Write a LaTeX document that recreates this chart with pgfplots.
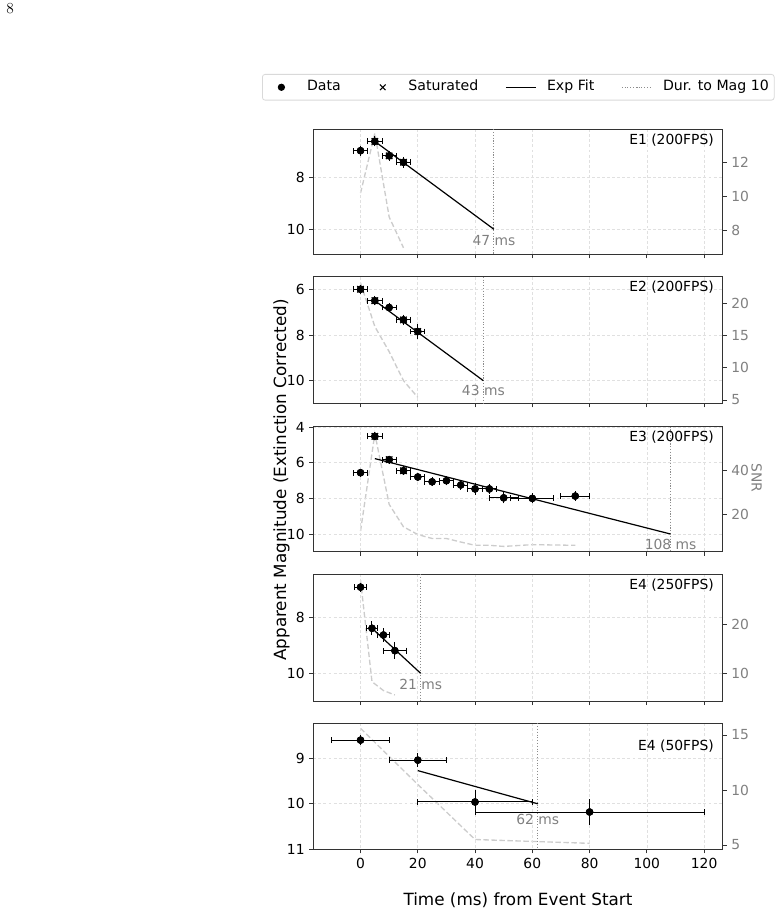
\documentclass[border=0pt]{standalone}
\usepackage{pgfplots}
\usepackage{pgfplotstable}
\pgfplotsset{compat=1.18}
\usepackage{fontspec}
\newfontfamily\dv{DejaVu Sans}
\newcommand{\tickf}{\dv\fontsize{10.4}{12.5}\selectfont}
\newcommand{\legf}{\dv\fontsize{10.6}{12.5}\selectfont}
\newcommand{\labf}{\dv\fontsize{12.6}{15}\selectfont}

\pgfplotstableread{
x y ex ey
0 6.95 2.5 0.08
5 6.59 2.5 0.08
10 7.15 2.5 0.08
15 7.40 2.5 0.10
}\tA
\pgfplotstableread{
x y ex ey
0 6.00 2.5 0.08
5 6.50 2.5 0.08
10 6.80 2.5 0.08
15 7.34 2.5 0.10
20 7.85 2.5 0.18
}\tB
\pgfplotstableread{
x y ex ey
0 6.56 2.5 0.06
5 4.52 2.5 0.06
10 5.83 2.5 0.06
15 6.45 2.5 0.08
20 6.80 2.5 0.08
25 7.07 2.5 0.08
30 7.01 2.5 0.10
35 7.25 2.5 0.10
40 7.47 2.5 0.15
45 7.47 2.5 0.10
50 7.97 5 0.15
60 8.00 7.5 0.12
75 7.87 5 0.10
}\tC
\pgfplotstableread{
x y ex ey
0 6.92 2 0.05
4 8.39 2 0.14
8 8.63 2 0.14
12 9.19 4 0.19
}\tD
\pgfplotstableread{
x y ex ey
0 8.60 10 0.04
20 9.04 10 0.09
40 9.96 20 0.19
80 10.18 40 0.22
}\tE

\pgfplotsset{
  base/.style={scale only axis, width=307.05pt, xmin=-16.5, xmax=126.5,
    tick align=outside, major tick length=3pt,
    /pgf/number format/assume math mode=true,
    ticklabel style={font=\tickf},
    axis line style={black!80, line width=0.6pt},
    tick style={black!80, line width=0.6pt}},
  main/.style={base, y dir=reverse, xtick={0,20,...,120},
    grid=major, major grid style={black!12, dash pattern=on 2.2pt off 1.6pt, line width=0.5pt},
    ytick pos=left, xtick pos=bottom},
  snr/.style={base, axis x line=none, axis y line*=right,
    yticklabel style={text=black!50}},
  snrline/.style={black!20, line width=1pt, dash pattern=on 4pt off 2pt},
  fit/.style={black, line width=0.9pt},
  dur/.style={black!45, line width=0.8pt, dash pattern=on 0.8pt off 1.3pt},
  daty/.style={only marks, mark=*, mark size=2.6pt, black, forget plot,
    error bars/y dir=both, error bars/y explicit,
    error bars/error mark=-,
    error bars/error bar style={black, line width=0.75pt},
    error bars/error mark options={black, mark size=2.2pt, line width=0.75pt}},
  datx/.style={only marks, mark=*, mark size=2.6pt, black, forget plot,
    error bars/x dir=both, error bars/x explicit,
    error bars/error mark=|,
    error bars/error bar style={black, line width=0.75pt},
    error bars/error mark options={black, mark size=2.2pt, line width=0.75pt}},
  sat/.style={only marks, mark=x, mark size=3.4pt, black, mark options={line width=0.9pt}, forget plot},
  markleg/.style={legend image code/.code={\path[draw=none, fill=none] (0pt,0pt) -- (22.5pt,0pt); \draw[##1] plot coordinates {(11.25pt,0pt)};}},
}
\newcommand{\datplot}[1]{%
  \addplot[daty] table[x=x, y=y, y error=ey] {#1};
  \addplot[datx] table[x=x, y=y, x error=ex] {#1};
}
\tikzset{
  ann/.style={text=black!50, font=\tickf, inner sep=0pt},
  ttl/.style={anchor=north east, font=\tickf, inner sep=0pt, xshift=-6.5pt, yshift=-3pt},
}
\begin{document}
\begin{tikzpicture}
\path[use as bounding box] (0,0) rectangle (585pt,686.25pt);
\node[anchor=base west, inner sep=0pt, font=\fontsize{11.5}{13}\selectfont] at (4.5pt,676.3pt) {8};

% ---------- Panel 1 ----------
\begin{axis}[snr, at={(234.975pt,495.525pt)}, height=93.75pt, ymin=6.62, ymax=13.93, ytick={8,10,12}]
\addplot[snrline] coordinates {(0,10.2)(5,13.7)(10,8.8)(15,7.0)};
\end{axis}
\begin{axis}[main, at={(234.975pt,495.525pt)}, height=93.75pt, ymin=6.12, ymax=10.97, ytick={8,10}, xticklabels={},
  legend columns=4,
  legend image code/.code={\draw[mark repeat=2,mark phase=2,#1] plot coordinates {(0pt,0pt)(11.25pt,0pt)(22.5pt,0pt)};},
  legend style={at={(-0.1253,1.4424)}, anchor=north west, draw=black!15, line width=0.6pt, rounded corners=2pt, fill=white,
    font=\legf, inner xsep=3pt, inner ysep=3.6pt,
    /tikz/every odd column/.append style={column sep=7pt},
    /tikz/every even column/.append style={column sep=19.2pt},
    nodes={inner sep=1pt, text height=7.8pt, text depth=2.3pt}}]
\addlegendimage{only marks, mark=*, mark size=2.4pt, black, markleg}
\addlegendentry{Data}
\addlegendimage{only marks, mark=x, mark size=3pt, black, mark options={line width=0.8pt}, markleg}
\addlegendentry{Saturated}
\addlegendimage{fit}
\addlegendentry{Exp Fit}
\addlegendimage{dur}
\addlegendentry{Dur. to Mag 10}
\addplot[dur, forget plot] coordinates {(46.6,6.12)(46.6,10.97)};
\addplot[fit, forget plot] coordinates {(5,6.59)(46.6,10)};
\datplot{\tA}
\addplot[sat] coordinates {(5,6.59)(10,7.15)(15,7.40)};
\node[ann] at (axis cs:46.6,10.44) {47 ms};
\node[ttl] at (axis description cs:1,1) {E1 (200FPS)};
\end{axis}

% ---------- Panel 2 ----------
\begin{axis}[snr, at={(234.975pt,383.775pt)}, height=94.95pt, ymin=4.48, ymax=24.16, ytick={5,10,15,20}]
\addplot[snrline] coordinates {(0,23.2)(5,16.4)(10,12.5)(15,8.0)(20,5.4)};
\end{axis}
\begin{axis}[main, at={(234.975pt,383.775pt)}, height=94.95pt, ymin=5.45, ymax=10.99, ytick={6,8,10}, xticklabels={}]
\addplot[dur] coordinates {(42.9,5.45)(42.9,10.99)};
\addplot[fit] coordinates {(5,6.5)(42.9,10)};
\datplot{\tB}
\addplot[sat] coordinates {(0,6.0)(5,6.5)(15,7.34)(20,7.85)};
\node[ann] at (axis cs:42.9,10.43) {43 ms};
\node[ttl] at (axis description cs:1,1) {E2 (200FPS)};
\end{axis}

% ---------- Panel 3 ----------
\begin{axis}[snr, at={(234.975pt,272.475pt)}, height=93.75pt, ymin=2.9, ymax=59.7, ytick={20,40}]
\addplot[snrline] coordinates {(0,12.3)(5,56.5)(10,24.4)(15,14.2)(20,10.7)(25,8.9)(30,8.9)(35,7.3)(40,5.8)(45,5.8)(50,5.3)(60,6.1)(75,5.8)};
\end{axis}
\begin{axis}[main, at={(234.975pt,272.475pt)}, height=93.75pt, ymin=3.98, ymax=10.99, ytick={4,6,8,10}, xticklabels={}]
\addplot[dur] coordinates {(108.3,3.98)(108.3,10.99)};
\addplot[fit] coordinates {(5,5.77)(108.3,10)};
\datplot{\tC}
\addplot[sat] coordinates {(5,4.52)(10,5.83)(15,6.45)};
\node[ann] at (axis cs:108.3,10.56) {108 ms};
\node[ttl] at (axis description cs:1,1) {E3 (200FPS)};
\end{axis}

% ---------- Panel 4 ----------
\begin{axis}[snr, at={(234.975pt,160.5pt)}, height=95.025pt, ymin=4.38, ymax=30.1, ytick={10,20}]
\addplot[snrline] coordinates {(0,28.9)(4,8.3)(8,6.5)(12,5.6)};
\end{axis}
\begin{axis}[main, at={(234.975pt,160.5pt)}, height=95.025pt, ymin=6.46, ymax=10.99, ytick={8,10}, xticklabels={}]
\addplot[dur] coordinates {(21,6.46)(21,10.99)};
\addplot[fit] coordinates {(4,8.39)(21,10)};
\datplot{\tD}
\node[ann] at (axis cs:21,10.41) {21 ms};
\node[ttl] at (axis description cs:1,1) {E4 (250FPS)};
\end{axis}

% ---------- Panel 5 ----------
\begin{axis}[snr, at={(234.975pt,49.275pt)}, height=94.5pt, ymin=4.61, ymax=16.06, ytick={5,10,15}]
\addplot[snrline] coordinates {(0,15.6)(20,10.5)(40,5.5)(80,5.15)};
\end{axis}
\begin{axis}[main, at={(234.975pt,49.275pt)}, height=94.5pt, ymin=8.23, ymax=11.0, ytick={9,10,11}]
\addplot[dur] coordinates {(61.9,8.23)(61.9,11.0)};
\addplot[fit] coordinates {(20,9.27)(61.9,10)};
\datplot{\tE}
\node[ann] at (axis cs:61.9,10.34) {62 ms};
\node[ttl, yshift=-9.5pt] at (axis description cs:1,1) {E4 (50FPS)};
\end{axis}

% ---------- labels ----------
\node[anchor=base, rotate=90, inner sep=0pt, font=\labf] at (214.5pt,326.25pt) {Apparent Magnitude (Extinction Corrected)};
\node[anchor=base, inner sep=0pt, font=\labf] at (388.5pt,6.975pt) {Time (ms) from Event Start};
\node[anchor=base, rotate=-90, inner sep=0pt, font=\tickf, text=black!50] at (563.8pt,327.75pt) {SNR};
\end{tikzpicture}
\end{document}
